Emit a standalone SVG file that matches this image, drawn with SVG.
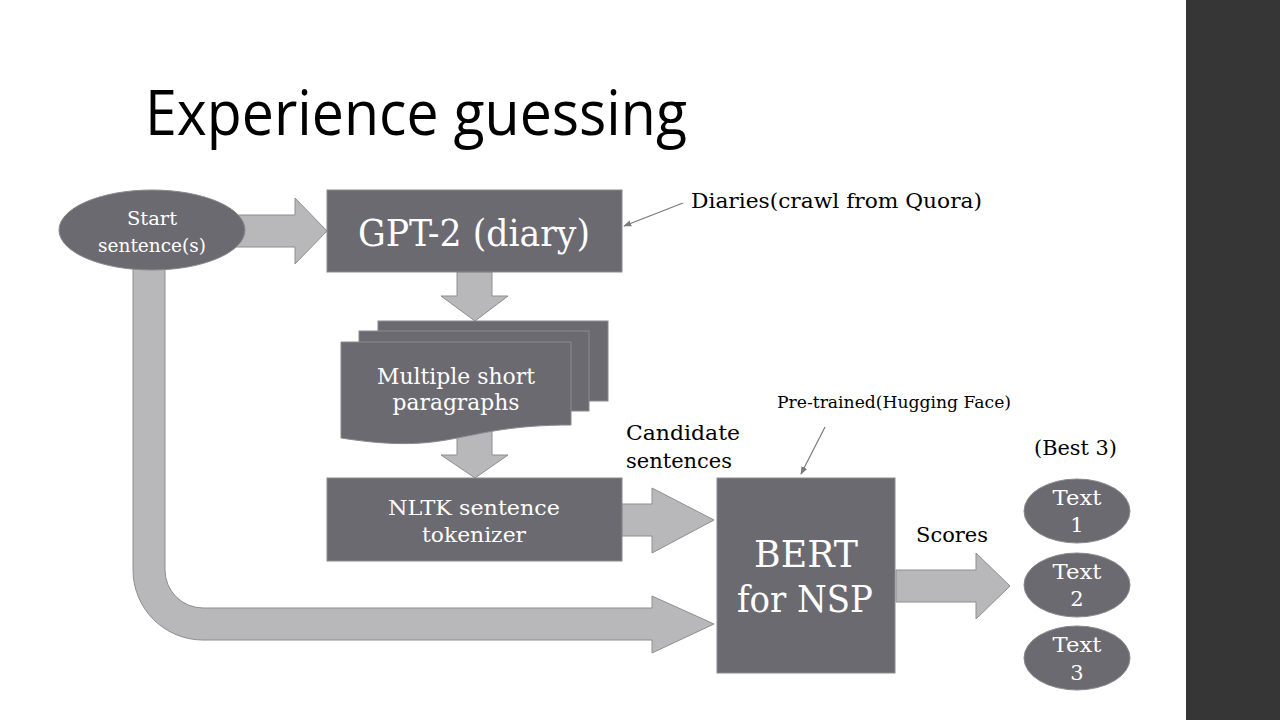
<svg xmlns="http://www.w3.org/2000/svg" width="1280" height="720" viewBox="0 0 1280 720">
<style>
.box{fill:#6b6a70;stroke:#8a8a8e;stroke-width:1}
.arr{fill:#b8b8ba;stroke:#8e8e90;stroke-width:1}
.wt{fill:#ffffff;font-family:"DejaVu Serif","Liberation Serif",serif;text-anchor:middle}
.bt{fill:#000000;font-family:"DejaVu Serif","Liberation Serif",serif}
.thin{stroke:#7a7a7a;stroke-width:1.2;fill:none}
</style>
<defs>
<marker id="ah" viewBox="0 0 10 10" refX="9" refY="5" markerWidth="8" markerHeight="8" orient="auto" markerUnits="userSpaceOnUse">
<path d="M0,1 L10,5 L0,9 Z" fill="#7a7a7a"/>
</marker>
</defs>
<rect x="0" y="0" width="1280" height="720" fill="#ffffff"/>
<rect x="1186" y="0" width="94" height="720" fill="#363637"/>
<text x="145" y="135" font-family="'Open Sans','Noto Sans',sans-serif" font-size="62" textLength="542" lengthAdjust="spacingAndGlyphs" fill="#000">Experience guessing</text>

<g id="connectors">
<path class="arr" d="M235,215 L295,215 L295,198 L327,231 L295,264 L295,247 L235,247 Z"/>
<path class="arr" d="M457,272 L492,272 L492,296 L508,296 L475,321 L441,296 L457,296 Z"/>
<path class="arr" d="M457,425 L492,425 L492,455 L508,455 L475,478 L441,455 L457,455 Z"/>
<path class="arr" d="M622,504 L652,504 L652,488 L714,520 L652,553 L652,536 L622,536 Z"/>
<path class="arr" d="M133,262 L165,262 L165,570 A38,38 0 0 0 203,608 L652,608 L652,596 L714,624 L652,653 L652,640 L203,640 A70,70 0 0 1 133,570 Z"/>
<path class="arr" d="M896,570 L976,570 L976,553 L1010,586 L976,619 L976,602 L896,602 Z"/>
<line class="thin" x1="683" y1="203" x2="624" y2="226" marker-end="url(#ah)"/>
<line class="thin" x1="825" y1="427" x2="801" y2="474" marker-end="url(#ah)"/>
</g>

<g id="start">
<ellipse class="box" cx="152" cy="230" rx="93" ry="40"/>
<text class="wt" x="152" y="225" font-size="18.5" textLength="50" lengthAdjust="spacingAndGlyphs">Start</text>
<text class="wt" x="152" y="252" font-size="18.5" textLength="108" lengthAdjust="spacingAndGlyphs">sentence(s)</text>
</g>

<g id="gpt2">
<rect class="box" x="327" y="190" width="295" height="82"/>
<text class="wt" x="474" y="246" font-size="37" textLength="232" lengthAdjust="spacingAndGlyphs">GPT-2 (diary)</text>
</g>

<g id="diaries">
<text class="bt" x="691" y="208" font-size="20" textLength="291" lengthAdjust="spacingAndGlyphs">Diaries(crawl from Quora)</text>
</g>

<g id="paragraphs">
<rect class="box" x="378" y="321" width="230" height="80"/>
<rect class="box" x="359" y="331" width="230" height="80"/>
<path class="box" d="M341,342 L571,342 L571,425 C456,425 456,456 341,438 Z"/>
<text class="wt" x="456" y="384" font-size="22" textLength="158" lengthAdjust="spacingAndGlyphs">Multiple short</text>
<text class="wt" x="456" y="410" font-size="22" textLength="127" lengthAdjust="spacingAndGlyphs">paragraphs</text>
</g>

<g id="nltk">
<rect class="box" x="327" y="478" width="295" height="83"/>
<text class="wt" x="474" y="515" font-size="21" textLength="172" lengthAdjust="spacingAndGlyphs">NLTK sentence</text>
<text class="wt" x="474" y="542" font-size="21" textLength="104" lengthAdjust="spacingAndGlyphs">tokenizer</text>
</g>

<g id="candidate">
<text class="bt" x="626" y="440" font-size="21" textLength="114" lengthAdjust="spacingAndGlyphs">Candidate</text>
<text class="bt" x="626" y="468" font-size="21" textLength="106" lengthAdjust="spacingAndGlyphs">sentences</text>
</g>

<g id="pretrained">
<text class="bt" x="777" y="408" font-size="16" textLength="234" lengthAdjust="spacingAndGlyphs">Pre-trained(Hugging Face)</text>
</g>

<g id="bert">
<rect class="box" x="717" y="478" width="178" height="195"/>
<text class="wt" x="806" y="567" font-size="38" textLength="104" lengthAdjust="spacingAndGlyphs">BERT</text>
<text class="wt" x="805" y="612" font-size="38" textLength="136" lengthAdjust="spacingAndGlyphs">for NSP</text>
</g>

<g id="scores">
<text class="bt" x="916" y="542" font-size="21" textLength="72" lengthAdjust="spacingAndGlyphs">Scores</text>
</g>

<g id="best3">
<text class="bt" x="1034" y="455" font-size="21" textLength="83" lengthAdjust="spacingAndGlyphs">(Best 3)</text>
</g>

<g id="text1">
<ellipse class="box" cx="1077" cy="511" rx="53" ry="32"/>
<text class="wt" x="1077" y="505" font-size="21" textLength="49" lengthAdjust="spacingAndGlyphs">Text</text>
<text class="wt" x="1077" y="532" font-size="21">1</text>
</g>
<g id="text2">
<ellipse class="box" cx="1077" cy="585" rx="53" ry="32"/>
<text class="wt" x="1077" y="579" font-size="21" textLength="49" lengthAdjust="spacingAndGlyphs">Text</text>
<text class="wt" x="1077" y="606" font-size="21">2</text>
</g>
<g id="text3">
<ellipse class="box" cx="1077" cy="658" rx="53" ry="32"/>
<text class="wt" x="1077" y="652" font-size="21" textLength="49" lengthAdjust="spacingAndGlyphs">Text</text>
<text class="wt" x="1077" y="680" font-size="21">3</text>
</g>
</svg>
